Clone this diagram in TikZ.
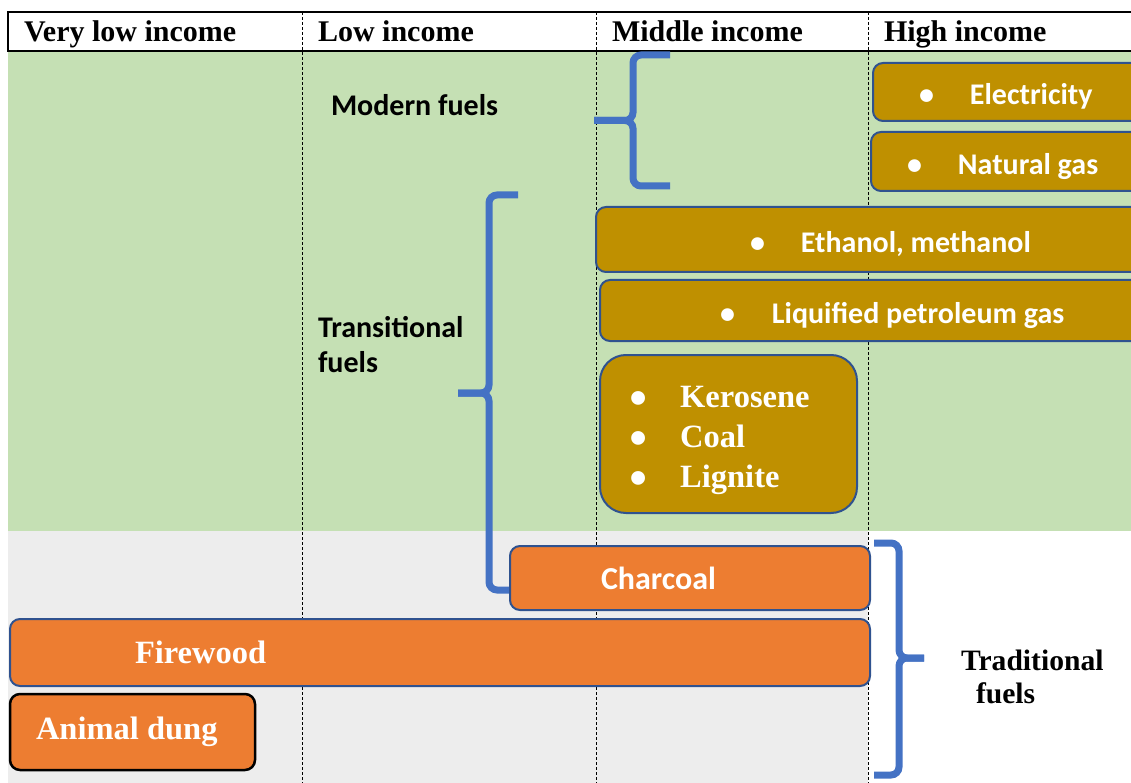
\documentclass[tikz,border=0pt]{standalone}
\usepackage{fontspec}
\setmainfont{Liberation Serif}
\newfontfamily\calfont{Carlito}
\definecolor{bggreen}{HTML}{C5E0B4}
\definecolor{bggray}{HTML}{EDEDED}
\definecolor{gold}{HTML}{BF9000}
\definecolor{woodorange}{HTML}{ED7D31}
\definecolor{barline}{HTML}{2F528F}
\definecolor{braceblue}{HTML}{4472C4}

\begin{document}
\begin{tikzpicture}[x=1pt,y=-1pt,
    every node/.style={inner sep=0pt,outer sep=0pt},
    incomehead/.style={anchor=base west,font=\fontsize{30}{34}\selectfont\bfseries},
    grouplabel/.style={anchor=base west,align=left,font=\calfont\fontsize{30}{35}\selectfont\bfseries},
    fuelbar/.style={draw=barline,line width=2pt,fill=gold,rounded corners=10pt,text=white,anchor=north west,align=flush left,
      text height=26pt,text depth=0pt,font=\calfont\fontsize{30}{34}\selectfont\bfseries},
    woodbar/.style={fuelbar,fill=woodorange,text height=,text depth=,font=\fontsize{32.5}{40}\selectfont\bfseries},
    brace/.style={draw=braceblue,line width=7pt,rounded corners=8pt}]
  \useasboundingbox (0,0) rectangle (1131,783);
  \clip (0,0) rectangle (1131,783);
  \fill[bggreen] (8,51) rectangle (1131,531);
  \fill[bggray] (8,531) rectangle (868,783);
  \foreach \x in {302,596,868}
    \draw[line width=0.8pt,dash pattern=on 3pt off 2pt] (\x,12) -- (\x,783);
  \draw[line width=1.6pt] (8,12) rectangle (1150,51);
  \foreach \x/\t/\n in {24/Very low income/vlow,318/Low income/low,612/Middle income/mid,884/High income/high}
    \node[incomehead] (\n) at (\x,42) {\t};
  \node[grouplabel] (modern) at (331,116) {Modern fuels};
  \node[grouplabel] (transit) at (318,372) {Transitional\\fuels};
  \node[anchor=base west,align=left,font=\fontsize{29.6}{33}\selectfont\bfseries] (trad) at (961,703) {Traditional\\\hspace*{15pt}fuels};
  \foreach \tip/\stem/\top/\topx/\bot/\botx/\mid in {594/633/55/670/186/670/120.5,458/489/195/518/590/512/393,924/899/543/874/775/874/658} {
    \draw[brace] (\topx,\top) -| (\stem,\mid) -- (\tip,\mid);
    \draw[brace] (\botx,\bot) -| (\stem,\mid) -- (\tip,\mid);
  }
  \node[fuelbar,minimum height=58pt,inner xsep=46pt,text width=200pt] (elec) at (873,63) {\textbullet\hspace{36pt}Electricity};
  \node[fuelbar,minimum height=59pt,inner xsep=36pt,text width=220pt] (natgas) at (871,132) {\textbullet\hspace{36pt}Natural gas};
  \node[fuelbar,minimum height=65pt,inner xsep=154pt,text width=300pt] (ethanol) at (596,207) {\textbullet\hspace{36pt}Ethanol, methanol};
  \node[fuelbar,minimum height=61pt,inner xsep=120pt,text width=360pt] (lpg) at (600,280) {\textbullet\hspace{37pt}Liquified petroleum gas};
  \node[fuelbar,rounded corners=26pt,minimum height=158pt,inner xsep=30pt,text width=197pt,text height=26pt,text depth=80pt,font=\fontsize{32.5}{40}\selectfont\bfseries] (solid) at (600,355)
    {{\calfont\textbullet}\hspace{34pt}Kerosene\\{\calfont\textbullet}\hspace{34pt}Coal\\{\calfont\textbullet}\hspace{34pt}Lignite};
  \node[woodbar,minimum height=64pt,inner xsep=91pt,text width=178pt,font=\calfont\fontsize{32}{40}\selectfont\bfseries] (charcoal) at (510,546) {Charcoal};
  \node[woodbar,minimum height=67pt,inner xsep=125pt,text width=610pt] (firewood) at (10,619) {Firewood};
  \node[woodbar,draw=black,line width=2.5pt,minimum height=76pt,inner xsep=26pt,text width=193pt] (dung) at (10,694) {Animal dung};
\end{tikzpicture}
\end{document}
